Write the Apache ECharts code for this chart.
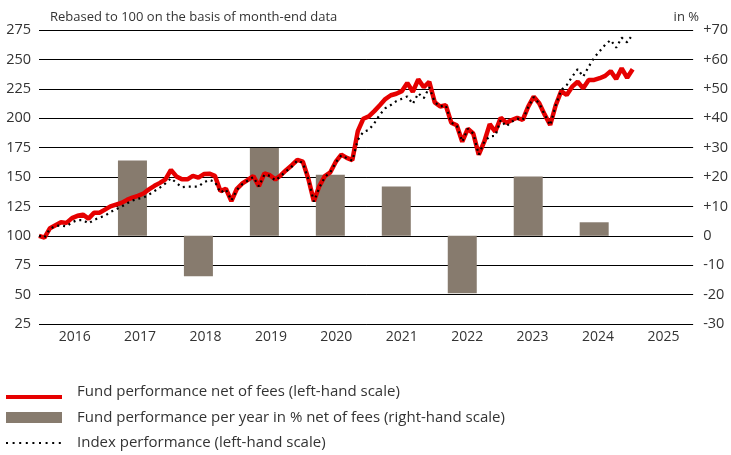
<!DOCTYPE html>
<html>
<head>
<meta charset="utf-8">
<script src="https://cdn.jsdelivr.net/npm/echarts@6/dist/echarts.min.js"></script>
<style>
html,body{margin:0;padding:0;background:#fff;}
#chart{width:731px;height:455px;}
</style>
</head>
<body>
<div id="chart"></div>
<script>
// Year labels on the x axis
const yearLabels = ['2016','2017','2018','2019','2020','2021','2022','2023','2024','2025'];
// Years with an annual bar and the annual performance in % (right-hand scale)
const barYears = [2017, 2018, 2019, 2020, 2021, 2022, 2023, 2024];
const yearlyPerf = [25.6, -13.8, 29.9, 20.8, 16.8, -19.5, 20.2, 4.6];
// Monthly rebased fund performance, month 1 = Jan 2016 (left-hand scale)
const fundPerf = [
  100, 98.5, 106.5, 109, 111.5, 111, 115, 117, 118, 114.6, 119.5, 119.6,
  122.3, 125, 126.5, 128, 130.5, 132.5, 134, 136, 139.5, 142.5, 145, 148,
  156, 150.5, 148, 148, 151, 149.5, 152.5, 152.8, 151, 138, 140, 129.5,
  140, 144.5, 147.5, 150.8, 142.3, 153, 151.5, 148, 151.5, 156, 160, 164.5,
  163, 148.5, 129.5, 142.3, 150.8, 154, 163, 169, 166.3, 164.4, 189, 199.5,
  201.5, 206, 211, 216.3, 219.5, 220.8, 223, 230, 222.5, 233, 226.3, 231,
  213.5, 210, 211, 196.2, 194, 180, 191, 187, 169, 180, 195, 188.5,
  200.4, 196, 198.5, 200.4, 198.5, 209.8, 218.3, 212.7, 203, 194.2, 211, 223,
  219.7, 226.8, 231, 225.4, 232.5, 232.5, 234, 236, 240, 233.3, 242.4, 234.4,
  241.6
];
// Monthly rebased index performance, month 1 = Jan 2016 (left-hand scale)
const indexPerf = [
  100, 98.5, 106, 108.3, 108.8, 108, 111.5, 113.4, 113.4, 110.6, 113.4, 115.5,
  117, 120.3, 122.5, 124.8, 127.5, 130, 131.5, 132.4, 135, 138, 141, 144.6,
  148.9, 145, 141.3, 141.8, 141.8, 141.8, 145.5, 147.5, 146, 136.7, 139.5, 130,
  139, 144, 147, 150, 142, 152, 151, 147, 151, 155, 159, 164,
  162, 148, 129, 141, 150, 154, 162.5, 168.5, 166, 164, 181.5, 188.5,
  190, 195.7, 203, 208.5, 211.2, 214.5, 216.5, 218.5, 212.1, 221.2, 217, 226.3,
  213.5, 210, 211, 196, 194, 180, 191, 187, 169, 180, 184.5, 185,
  198.5, 193, 197, 199.6, 198.5, 209.5, 218, 212.5, 203, 194, 211, 224,
  228.2, 235.3, 241.8, 235.3, 243.8, 251.5, 257, 262.5, 266.5, 260, 268.5, 264.5,
  271.3
];
// Legend texts
const legendNames = [
  'Fund performance net of fees (left-hand scale)',
  'Fund performance per year in % net of fees (right-hand scale)',
  'Index performance (left-hand scale)'
];

const FONT = '"Open Sans", "Noto Sans", sans-serif';
const RED = '#e60000', BROWN = '#877b6e', TXT = '#333';
const chart = echarts.init(document.getElementById('chart'), null, {renderer: 'canvas'});

const fundData = fundPerf.map((v, i) => [i + 1, v]);
const indexData = indexPerf.map((v, i) => [i + 1, v]);
const barData = barYears.map((y, i) => [(y - 2016) * 12 + 6, yearlyPerf[i]]);

const legendTop = [392, 418, 443];
const legendGraphics = [
  {type: 'line', shape: {x1: 6, y1: 397, x2: 62, y2: 397}, style: {stroke: RED, lineWidth: 4}},
  {type: 'rect', shape: {x: 6, y: 412, width: 56, height: 11}, style: {fill: BROWN}},
  {type: 'line', shape: {x1: 6, y1: 443, x2: 62, y2: 443}, style: {stroke: '#000', lineWidth: 2, lineDash: [2, 4.6]}}
];
legendNames.forEach((n, i) => {
  legendGraphics.push({type: 'text', x: 77, y: legendTop[i], style: {text: n, fill: TXT, font: '15px ' + FONT, textVerticalAlign: 'middle'}});
});

chart.setOption({
  animation: false,
  backgroundColor: '#ffffff',
  grid: {left: 39, right: 34, top: 30, bottom: 131, containLabel: false},
  xAxis: [
    {type: 'value', min: 1, max: 120, show: false},
    {
      type: 'category', data: yearLabels, boundaryGap: true, position: 'bottom',
      axisLine: {show: false}, axisTick: {show: false}, splitLine: {show: false},
      axisLabel: {color: TXT, fontFamily: FONT, fontSize: 14, margin: 6, padding: [0, 0, 0, 6]}
    }
  ],
  yAxis: [
    {
      type: 'value', min: 25, max: 275, interval: 25, position: 'left',
      axisLine: {show: false}, axisTick: {show: false},
      splitLine: {show: true, lineStyle: {color: '#000', width: 1}},
      axisLabel: {color: TXT, fontFamily: FONT, fontSize: 14.5, margin: 8}
    },
    {
      type: 'value', min: -30, max: 70, interval: 10, position: 'right',
      axisLine: {show: false}, axisTick: {show: false}, splitLine: {show: false},
      axisLabel: {color: TXT, fontFamily: FONT, fontSize: 14.5, margin: 10,
        formatter: v => (v > 0 ? '+' + v : String(v))}
    }
  ],
  series: [
    {
      name: legendNames[1],
      type: 'bar', xAxisIndex: 0, yAxisIndex: 1, data: barData,
      barWidth: 29, itemStyle: {color: BROWN}, z: 1
    },
    {
      name: legendNames[0],
      type: 'line', xAxisIndex: 0, yAxisIndex: 0, data: fundData,
      symbol: 'none', lineStyle: {color: RED, width: 4.5}, z: 3
    },
    {
      name: legendNames[2],
      type: 'line', xAxisIndex: 0, yAxisIndex: 0, data: indexData,
      symbol: 'none', lineStyle: {color: '#000', width: 2.2, type: [2, 4]}, z: 4
    }
  ],
  graphic: [
    {type: 'text', x: 50, y: 17, style: {text: 'Rebased to 100 on the basis of month-end data', fill: TXT, font: '13px ' + FONT, textVerticalAlign: 'middle'}},
    {type: 'text', x: 699, y: 17, style: {text: 'in %', fill: TXT, font: '13px ' + FONT, textAlign: 'right', textVerticalAlign: 'middle'}}
  ].concat(legendGraphics)
});
</script>
</body>
</html>
